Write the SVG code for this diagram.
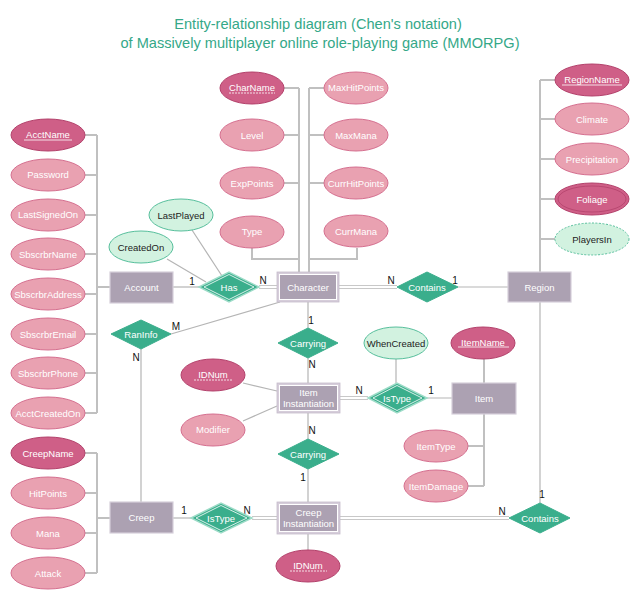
<svg xmlns="http://www.w3.org/2000/svg" width="640" height="599" viewBox="0 0 640 599">
<style>
text{font-family:"Liberation Sans",Arial,sans-serif;font-size:9.5px;text-anchor:middle;dominant-baseline:central}
.t{fill:#35a888;font-size:14.6px}
.w{fill:#fff}
.k{fill:#222}
.c{fill:#111;font-size:10px}
.attr{fill:#e9a1b1;stroke:#d56f8f;stroke-width:1}
.key{fill:#cf5f87;stroke:#b3416b;stroke-width:1}
.der{fill:#d2f2e0;stroke:#57bf9c;stroke-width:1}
.ent{fill:#aca1b2;stroke:#d6cfda;stroke-width:1.2}
.wout{fill:#d6cdda;stroke:#c6bccb;stroke-width:0.8}
.win{fill:#aca1b2;stroke:#fff;stroke-width:1}
.rel{fill:#3aae8c;stroke:#3aae8c;stroke-width:1}
.rout{fill:#3aae8c;stroke:#9edcc8;stroke-width:1.5}
.rin{fill:none;stroke:#fff;stroke-width:0.8}
.ln{stroke:#b5b5b5;stroke-width:1.2;fill:none}
.bus{stroke:#c0c0c0;stroke-width:2;fill:none}
.dbl{stroke:#c8c8c8;stroke-width:1.2;fill:none}
.ul{stroke:#fff;stroke-width:0.8}
.uld{stroke:#fff;stroke-width:0.8;stroke-dasharray:2,1}
</style>
<text class="t" x="318" y="24">Entity-relationship diagram (Chen's notation)</text>
<text class="t" x="320" y="43">of Massively multiplayer online role-playing game (MMORPG)</text>

<g id="connectors">
  <path class="bus" d="M97,135V413M85,135H97M85,175H97M85,215H97M85,254H97M85,294H97M85,334H97M85,373H97M85,413H97"/>
  <path class="bus" d="M97,287H110" stroke-width="2.5"/>
  <path class="bus" d="M97,453V573M85,453H97M85,493H97M85,533H97M85,573H97M97,518H110"/>
  <path class="bus" d="M299,88V272M284,88H299M284,135H299M284,183H299M252,248V259H299"/>
  <path class="bus" d="M309,88V272M324,88H309M324,135H309M324,183H309M357,248V259H309"/>
  <path class="bus" d="M540,80V272M555,80H540M555,119H540M555,159H540M555,199H540M555,239H540"/>
  <path class="bus" d="M484,359V383M484,414V486M468,446H484M468,486H484"/>
  <path class="ln" d="M173,287H199"/>
  <path class="dbl" d="M259,285.5H277M259,288.5H277"/>
  <path class="ln" d="M192,230L222,276M167,259L206,282"/>
  <path class="dbl" d="M339,285.5H397M339,288.5H397"/>
  <path class="ln" d="M458,287H508"/>
  <path class="ln" d="M171,334L280,302M141,349V502"/>
  <path class="ln" d="M308,302V328M308,358V383"/>
  <path class="dbl" d="M340,396.5H368M340,399.5H368"/>
  <path class="ln" d="M427,398H452M396,359V383"/>
  <path class="ln" d="M243,383L277,391M243,421L277,406"/>
  <path class="ln" d="M308,413V439M308,469V502M308,534V550"/>
  <path class="ln" d="M173,518H191"/>
  <path class="dbl" d="M252,516.5H277M252,519.5H277"/>
  <path class="dbl" d="M340,516.5H509M340,519.5H509"/>
  <path class="ln" d="M540,302V503"/>
  <text class="c" x="192" y="281">1</text>
  <text class="c" x="263" y="280">N</text>
  <text class="c" x="391" y="280">N</text>
  <text class="c" x="455" y="280">1</text>
  <text class="c" x="176" y="326">M</text>
  <text class="c" x="136" y="357">N</text>
  <text class="c" x="311" y="320">1</text>
  <text class="c" x="312" y="364">N</text>
  <text class="c" x="359" y="390">N</text>
  <text class="c" x="431" y="390">1</text>
  <text class="c" x="312" y="430">N</text>
  <text class="c" x="303" y="477">1</text>
  <text class="c" x="184" y="510">1</text>
  <text class="c" x="247" y="510">N</text>
  <text class="c" x="502" y="511">N</text>
  <text class="c" x="542" y="494">1</text>
</g>

<g id="AcctName"><ellipse class="key" cx="48" cy="135" rx="37" ry="16"/><text class="w" x="48" y="134">AcctName</text><line class="ul" x1="24" y1="140" x2="72" y2="140"/></g>
<g id="Password"><ellipse class="attr" cx="48" cy="175" rx="37" ry="16"/><text class="w" x="48" y="174">Password</text></g>
<g id="LastSignedOn"><ellipse class="attr" cx="48" cy="215" rx="37" ry="16"/><text class="w" x="48" y="214">LastSignedOn</text></g>
<g id="SbscrbrName"><ellipse class="attr" cx="48" cy="254" rx="37" ry="16"/><text class="w" x="48" y="254">SbscrbrName</text></g>
<g id="SbscrbrAddress"><ellipse class="attr" cx="48" cy="294" rx="37" ry="16"/><text class="w" x="48" y="294">SbscrbrAddress</text></g>
<g id="SbscrbrEmail"><ellipse class="attr" cx="48" cy="334" rx="37" ry="16"/><text class="w" x="48" y="334">SbscrbrEmail</text></g>
<g id="SbscrbrPhone"><ellipse class="attr" cx="48" cy="373" rx="37" ry="16"/><text class="w" x="48" y="373">SbscrbrPhone</text></g>
<g id="AcctCreatedOn"><ellipse class="attr" cx="48" cy="413" rx="37" ry="16"/><text class="w" x="48" y="413">AcctCreatedOn</text></g>
<g id="CreepName"><ellipse class="key" cx="48" cy="453" rx="37" ry="16"/><text class="w" x="48" y="453">CreepName</text></g>
<g id="HitPoints"><ellipse class="attr" cx="48" cy="493" rx="37" ry="16"/><text class="w" x="48" y="493">HitPoints</text></g>
<g id="Mana"><ellipse class="attr" cx="48" cy="533" rx="37" ry="16"/><text class="w" x="48" y="533">Mana</text></g>
<g id="Attack"><ellipse class="attr" cx="48" cy="573" rx="37" ry="16"/><text class="w" x="48" y="573">Attack</text></g>

<g id="CharName"><ellipse class="key" cx="252" cy="88" rx="32" ry="16"/><text class="w" x="252" y="87">CharName</text><line class="uld" x1="229" y1="93" x2="275" y2="93"/></g>
<g id="Level"><ellipse class="attr" cx="252" cy="135" rx="32" ry="16"/><text class="w" x="252" y="135">Level</text></g>
<g id="ExpPoints"><ellipse class="attr" cx="252" cy="183" rx="32" ry="16"/><text class="w" x="252" y="183">ExpPoints</text></g>
<g id="Type"><ellipse class="attr" cx="252" cy="232" rx="32" ry="16"/><text class="w" x="252" y="231">Type</text></g>
<g id="MaxHitPoints"><ellipse class="attr" cx="356" cy="88" rx="32" ry="16"/><text class="w" x="356" y="87">MaxHitPoints</text></g>
<g id="MaxMana"><ellipse class="attr" cx="356" cy="135" rx="32" ry="16"/><text class="w" x="356" y="135">MaxMana</text></g>
<g id="CurrHitPoints"><ellipse class="attr" cx="356" cy="183" rx="32" ry="16"/><text class="w" x="356" y="183">CurrHitPoints</text></g>
<g id="CurrMana"><ellipse class="attr" cx="356" cy="231" rx="32" ry="16"/><text class="w" x="356" y="231">CurrMana</text></g>

<g id="RegionName"><ellipse class="key" cx="592" cy="80" rx="37" ry="16"/><text class="w" x="592" y="79">RegionName</text><line class="ul" x1="562" y1="85" x2="622" y2="85"/></g>
<g id="Climate"><ellipse class="attr" cx="592" cy="119" rx="37" ry="16"/><text class="w" x="592" y="119">Climate</text></g>
<g id="Precipitation"><ellipse class="attr" cx="592" cy="159" rx="37" ry="16"/><text class="w" x="592" y="159">Precipitation</text></g>
<g id="Foliage"><ellipse class="key" cx="592" cy="199" rx="37" ry="16"/><ellipse cx="592" cy="199" rx="34" ry="13" fill="none" stroke="#b3416b" stroke-width="0.8"/><text class="w" x="592" y="199">Foliage</text></g>
<g id="PlayersIn"><ellipse class="der" cx="592" cy="239" rx="37" ry="16" stroke-dasharray="2,1.5"/><text class="k" x="592" y="239">PlayersIn</text></g>

<g id="LastPlayed"><ellipse class="der" cx="181" cy="215" rx="32" ry="16"/><text class="k" x="181" y="215">LastPlayed</text></g>
<g id="CreatedOn"><ellipse class="der" cx="141" cy="247" rx="32" ry="16"/><text class="k" x="141" y="247">CreatedOn</text></g>
<g id="WhenCreated"><ellipse class="der" cx="396" cy="343" rx="32" ry="16"/><text class="k" x="396" y="343">WhenCreated</text></g>

<g id="IDNum1"><ellipse class="key" cx="213" cy="375" rx="32" ry="16"/><text class="w" x="213" y="374">IDNum</text><line class="uld" x1="194" y1="380" x2="232" y2="380"/></g>
<g id="Modifier"><ellipse class="attr" cx="213" cy="430" rx="32" ry="16"/><text class="w" x="213" y="429">Modifier</text></g>
<g id="IDNum2"><ellipse class="key" cx="308" cy="566" rx="32" ry="16"/><text class="w" x="308" y="565">IDNum</text><line class="uld" x1="290" y1="571" x2="327" y2="571"/></g>

<g id="ItemName"><ellipse class="key" cx="483" cy="343" rx="32" ry="16"/><text class="w" x="483" y="342">ItemName</text><line class="ul" x1="458" y1="347" x2="509" y2="347"/></g>
<g id="ItemType"><ellipse class="attr" cx="436" cy="446" rx="32" ry="16"/><text class="w" x="436" y="446">ItemType</text></g>
<g id="ItemDamage"><ellipse class="attr" cx="436" cy="486" rx="32" ry="16"/><text class="w" x="436" y="486">ItemDamage</text></g>

<g id="Account"><rect class="ent" x="110" y="272" width="63" height="31"/><text class="w" x="141.5" y="287">Account</text></g>
<g id="Creep"><rect class="ent" x="110" y="502" width="63" height="31"/><text class="w" x="141.5" y="517">Creep</text></g>
<g id="Region"><rect class="ent" x="508" y="272" width="63" height="30"/><text class="w" x="539.5" y="287">Region</text></g>
<g id="Item"><rect class="ent" x="452" y="383" width="64" height="31"/><text class="w" x="484" y="398">Item</text></g>
<g id="Character"><rect class="wout" x="277" y="272" width="62" height="30"/><rect class="win" x="279.5" y="274.5" width="57" height="25"/><text class="w" x="308" y="287">Character</text></g>
<g id="ItemInstantiation"><rect class="wout" x="277" y="383" width="63" height="30"/><rect class="win" x="279.5" y="385.5" width="58" height="25"/><text class="w" x="308.5" y="392">Item</text><text class="w" x="308.5" y="403">Instantiation</text></g>
<g id="CreepInstantiation"><rect class="wout" x="277" y="502" width="63" height="32"/><rect class="win" x="279.5" y="504.5" width="58" height="27"/><text class="w" x="308.5" y="512">Creep</text><text class="w" x="308.5" y="523">Instantiation</text></g>

<g id="Has"><polygon class="rout" points="199,287 229,272 259,287 229,302"/><polygon class="rin" points="204,287 229,274.5 254,287 229,299.5"/><text class="w" x="229" y="287">Has</text></g>
<g id="ContainsRegion"><polygon class="rel" points="397,287 427,272 458,287 427,302"/><text class="w" x="427" y="287">Contains</text></g>
<g id="RanInfo"><polygon class="rel" points="111,334 141,320 171,334 141,349"/><text class="w" x="141" y="334">RanInfo</text></g>
<g id="Carrying1"><polygon class="rel" points="278,343 308,328 338,343 308,358"/><text class="w" x="308" y="343">Carrying</text></g>
<g id="IsTypeItem"><polygon class="rout" points="368,398 397,383 427,398 397,413"/><polygon class="rin" points="373,398 397,385.5 422,398 397,410.5"/><text class="w" x="397" y="398">IsType</text></g>
<g id="Carrying2"><polygon class="rel" points="278,454 308,439 339,454 308,469"/><text class="w" x="308" y="454">Carrying</text></g>
<g id="IsTypeCreep"><polygon class="rout" points="191,518 221,503 252,518 221,533"/><polygon class="rin" points="196,518 221,505.5 247,518 221,530.5"/><text class="w" x="221" y="518">IsType</text></g>
<g id="ContainsCreep"><polygon class="rel" points="509,518 540,503 570,518 540,533"/><text class="w" x="540" y="518">Contains</text></g>
</svg>
